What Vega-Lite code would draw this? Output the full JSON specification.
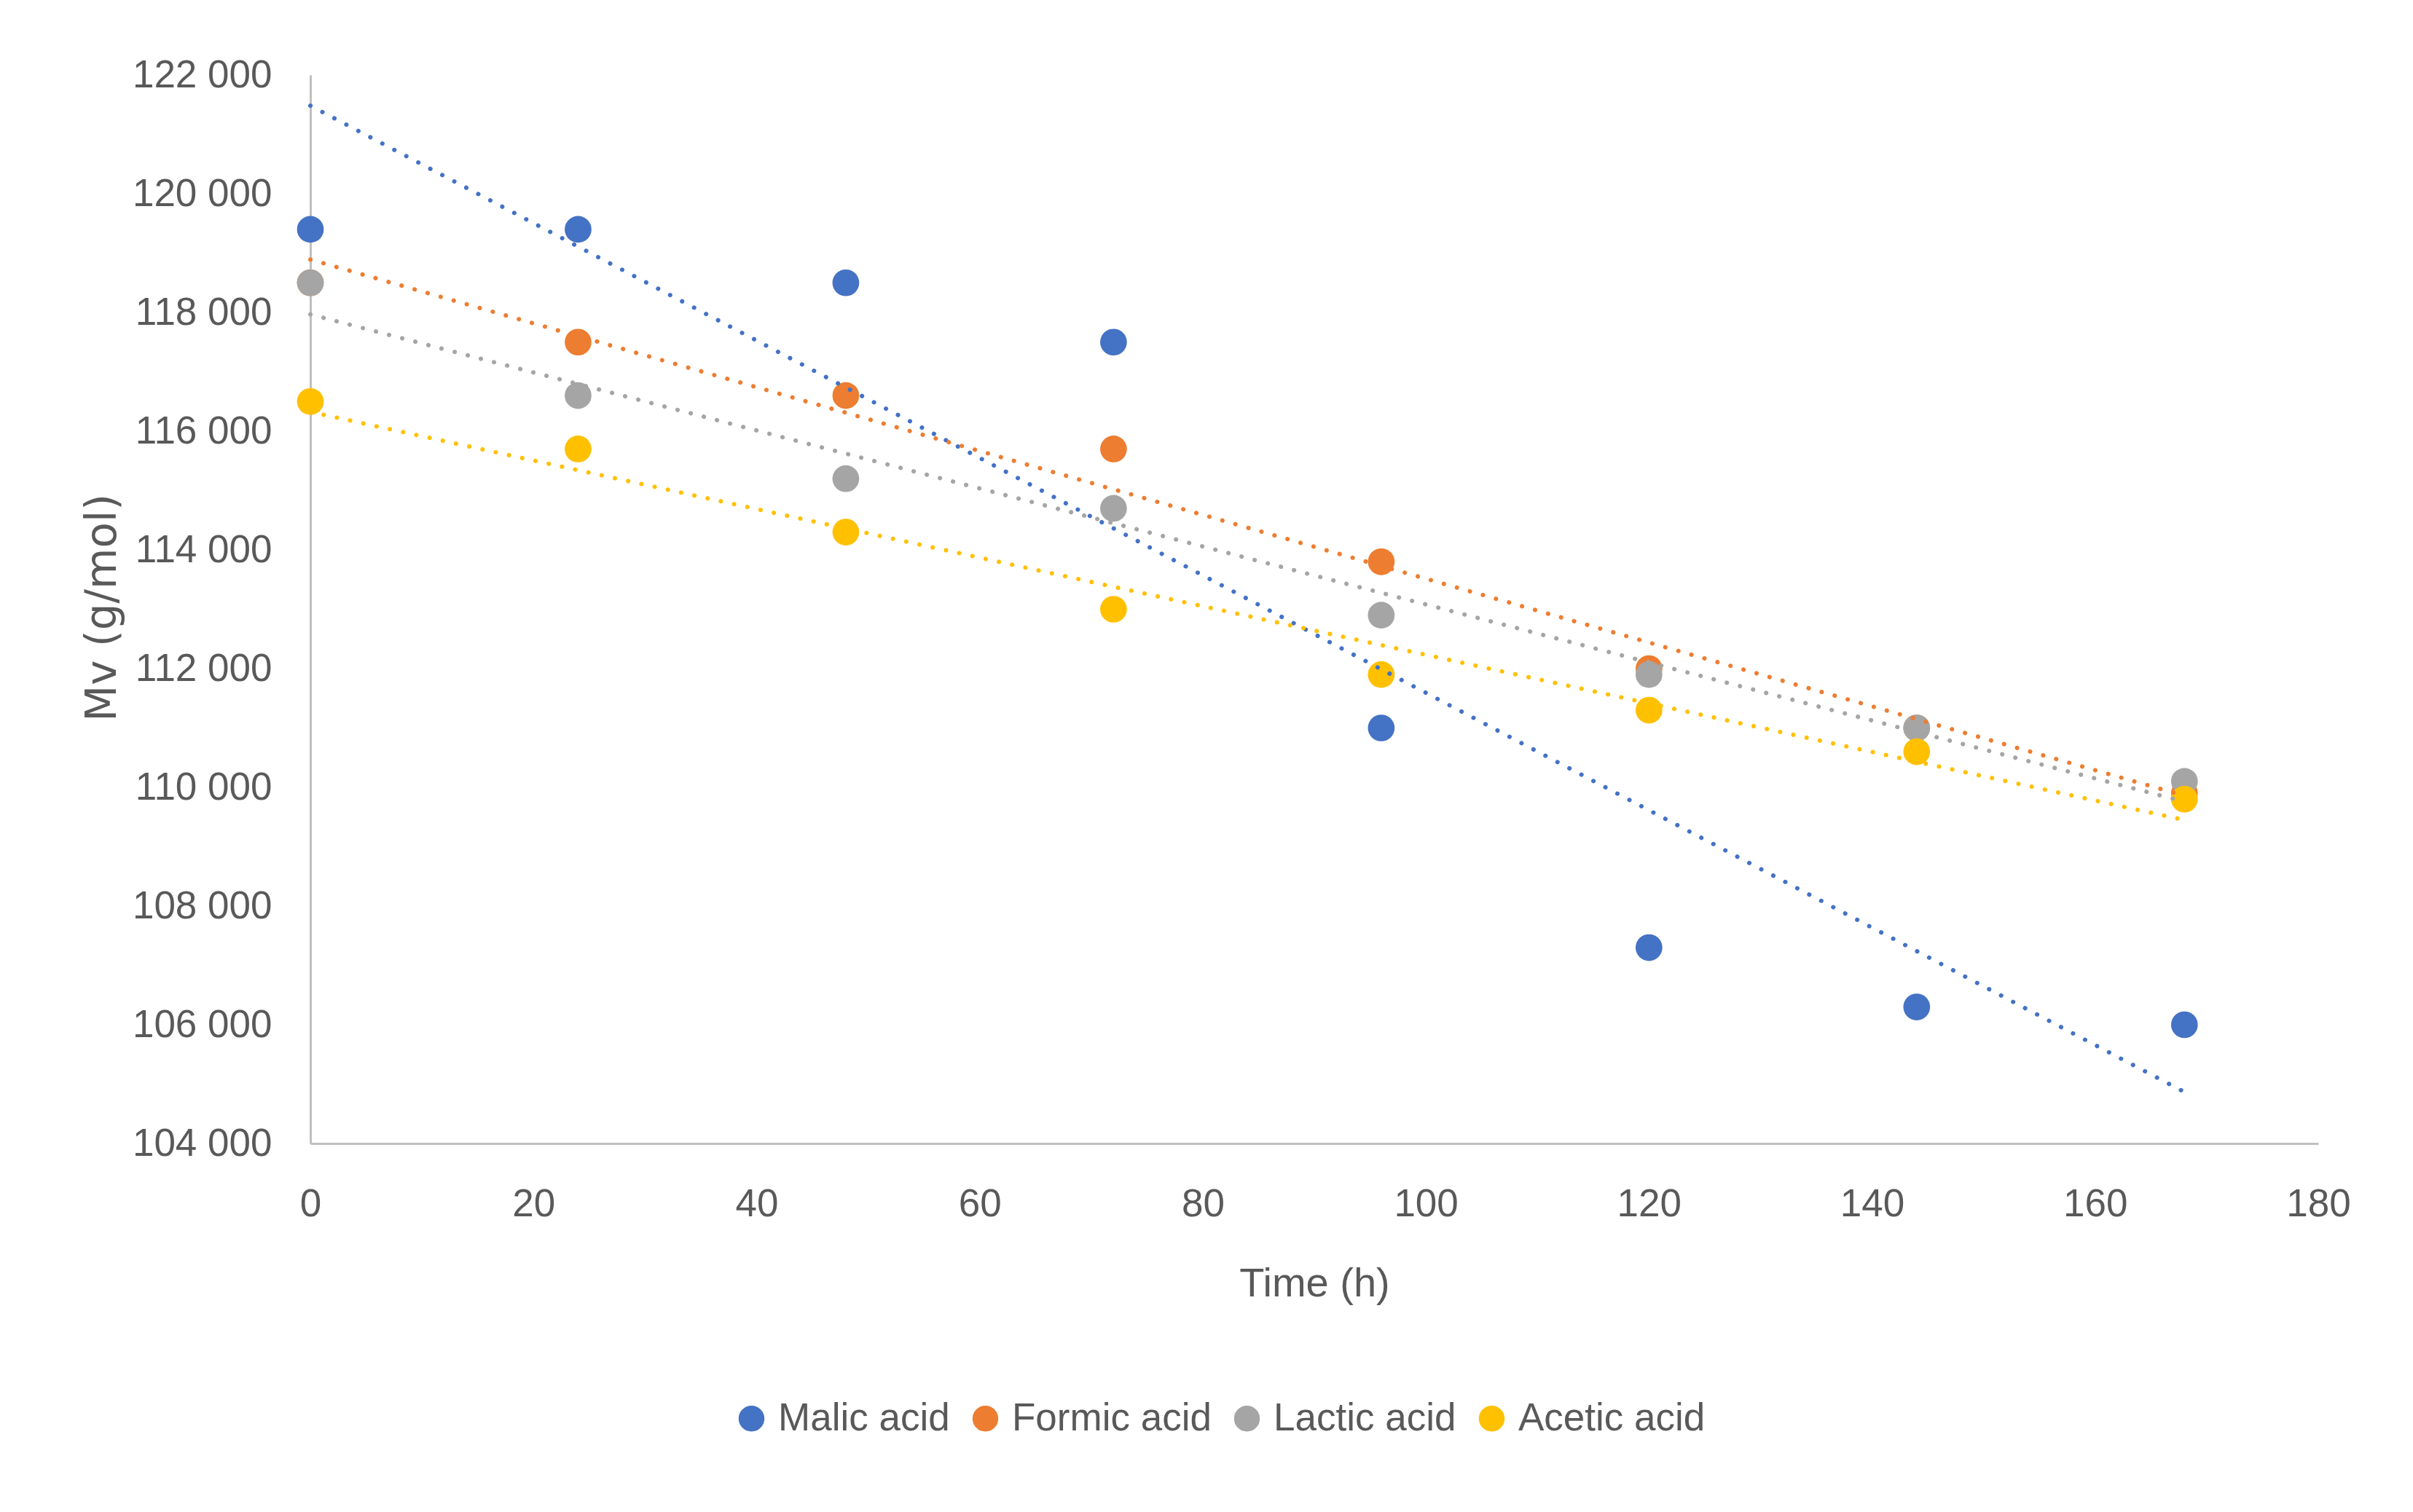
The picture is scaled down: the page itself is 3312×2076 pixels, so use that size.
{
  "$schema": "https://vega.github.io/schema/vega-lite/v6.json",
  "width": 2756,
  "height": 1467,
  "autosize": "none",
  "padding": {"left": 426, "top": 103, "right": 130, "bottom": 506},
  "background": "white",
  "data": {
    "values": [
      {"time": 0, "acid": "Malic acid", "mv": 119400},
      {"time": 24, "acid": "Malic acid", "mv": 119400},
      {"time": 48, "acid": "Malic acid", "mv": 118500},
      {"time": 72, "acid": "Malic acid", "mv": 117500},
      {"time": 96, "acid": "Malic acid", "mv": 111000},
      {"time": 120, "acid": "Malic acid", "mv": 107300},
      {"time": 144, "acid": "Malic acid", "mv": 106300},
      {"time": 168, "acid": "Malic acid", "mv": 106000},
      {"time": 0, "acid": "Formic acid", "mv": 118500},
      {"time": 24, "acid": "Formic acid", "mv": 117500},
      {"time": 48, "acid": "Formic acid", "mv": 116600},
      {"time": 72, "acid": "Formic acid", "mv": 115700},
      {"time": 96, "acid": "Formic acid", "mv": 113800},
      {"time": 120, "acid": "Formic acid", "mv": 112000},
      {"time": 144, "acid": "Formic acid", "mv": 111000},
      {"time": 168, "acid": "Formic acid", "mv": 109900},
      {"time": 0, "acid": "Lactic acid", "mv": 118500},
      {"time": 24, "acid": "Lactic acid", "mv": 116600},
      {"time": 48, "acid": "Lactic acid", "mv": 115200},
      {"time": 72, "acid": "Lactic acid", "mv": 114700},
      {"time": 96, "acid": "Lactic acid", "mv": 112900},
      {"time": 120, "acid": "Lactic acid", "mv": 111900},
      {"time": 144, "acid": "Lactic acid", "mv": 111000},
      {"time": 168, "acid": "Lactic acid", "mv": 110100},
      {"time": 0, "acid": "Acetic acid", "mv": 116500},
      {"time": 24, "acid": "Acetic acid", "mv": 115700},
      {"time": 48, "acid": "Acetic acid", "mv": 114300},
      {"time": 72, "acid": "Acetic acid", "mv": 113000},
      {"time": 96, "acid": "Acetic acid", "mv": 111900},
      {"time": 120, "acid": "Acetic acid", "mv": 111300},
      {"time": 144, "acid": "Acetic acid", "mv": 110600},
      {"time": 168, "acid": "Acetic acid", "mv": 109800}
    ]
  },
  "encoding": {
    "x": {
      "field": "time",
      "type": "quantitative",
      "title": "Time (h)",
      "scale": {"domain": [0, 180], "nice": false},
      "axis": {
        "values": [0, 20, 40, 60, 80, 100, 120, 140, 160, 180],
        "labelBaseline": "middle",
        "labelPadding": 83,
        "labelFlush": false,
        "titleBaseline": "middle",
        "titleY": 192,
        "titleFontSize": 56
      }
    },
    "y": {
      "field": "mv",
      "type": "quantitative",
      "title": "Mv (g/mol)",
      "scale": {"domain": [104000, 122000], "nice": false, "zero": false},
      "axis": {
        "values": [104000, 106000, 108000, 110000, 112000, 114000, 116000, 118000, 120000, 122000],
        "format": ",d",
        "labelPadding": 53,
        "labelFlush": false,
        "titleAngle": -90,
        "titleAlign": "center",
        "titleBaseline": "middle",
        "titleX": -285,
        "titleY": 731,
        "titleFont": "DejaVu Sans",
        "titleFontSize": 58
      }
    },
    "color": {
      "field": "acid",
      "type": "nominal",
      "sort": ["Malic acid", "Formic acid", "Lactic acid", "Acetic acid"],
      "scale": {
        "domain": ["Malic acid", "Formic acid", "Lactic acid", "Acetic acid"],
        "range": ["#4472C4", "#ED7D31", "#A5A5A5", "#FFC000"]
      },
      "legend": {
        "title": null,
        "orient": "none",
        "direction": "horizontal",
        "legendX": 579,
        "legendY": 1818,
        "symbolType": "circle",
        "symbolSize": 1150,
        "symbolOpacity": 1,
        "labelFont": "Liberation Sans",
        "labelFontSize": 53,
        "labelLimit": 0,
        "labelColor": "#595959",
        "labelOffset": 10,
        "columnPadding": 22,
        "padding": 0
      }
    }
  },
  "layer": [
    {
      "mark": {"type": "point", "filled": true, "size": 1350, "opacity": 1, "shape": "circle"}
    },
    {
      "transform": [
        {"regression": "mv", "on": "time", "groupby": ["acid"]}
      ],
      "mark": {
        "type": "line",
        "strokeWidth": 6,
        "strokeDash": [0.1, 18.5],
        "strokeCap": "round"
      }
    }
  ],
  "config": {
    "locale": {
      "number": {
        "decimal": ",",
        "thousands": " ",
        "grouping": [3],
        "currency": ["", ""]
      }
    },
    "view": {"stroke": null},
    "axis": {
      "grid": false,
      "ticks": false,
      "domainColor": "#BFBFBF",
      "domainWidth": 3,
      "labelFont": "Liberation Sans",
      "labelFontSize": 53,
      "labelLimit": 0,
      "labelColor": "#595959",
      "titleFont": "Liberation Sans",
      "titleColor": "#595959",
      "titleFontWeight": "normal"
    }
  }
}
